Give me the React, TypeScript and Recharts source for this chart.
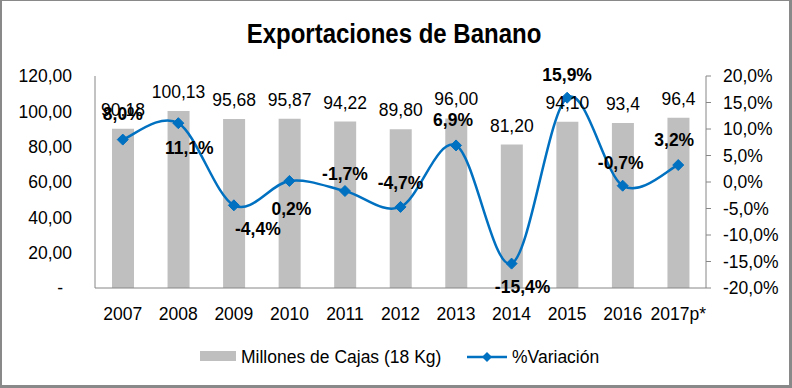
import {
  ComposedChart,
  Bar,
  Line,
  XAxis,
  YAxis,
  LabelList,
} from "recharts";

const years = ["2007", "2008", "2009", "2010", "2011", "2012", "2013", "2014", "2015", "2016", "2017p*"];
const cajas = [90.18, 100.13, 95.68, 95.87, 94.22, 89.8, 96.0, 81.2, 94.1, 93.4, 96.4];
const cajasLabels = ["90,18", "100,13", "95,68", "95,87", "94,22", "89,80", "96,00", "81,20", "94,10", "93,4", "96,4"];
const variacion = [8.0, 11.1, -4.4, 0.2, -1.7, -4.7, 6.9, -15.4, 15.9, -0.7, 3.2];
const leftTicks = [0, 20, 40, 60, 80, 100, 120];
const rightTicks = [-20, -15, -10, -5, 0, 5, 10, 15, 20];

const data = years.map((year, i) => ({
  year,
  cajas: cajas[i],
  variacion: variacion[i],
}));

// where each % label sits relative to its marker (dx, dy of the text centre)
const pctOffsets = [
  [0, -26], [11, 25], [24, 24], [2, 28], [0, -17], [0, -24],
  [-3, -25], [11, 23], [0, -23], [-2, -23], [-4, -25],
];

const FONT = "'Liberation Sans', Arial, sans-serif";
const BLUE = "#0070C0";
const GRAY_BAR = "#BFBFBF";
const AXIS = "#868686";

// Excel-like smoothed line (Catmull-Rom as bezier)
const excelSmooth = (context: any) => {
  let pts: number[][] = [];
  return {
    areaStart() {},
    areaEnd() {},
    lineStart() {
      pts = [];
    },
    point(x: number, y: number) {
      pts.push([+x, +y]);
    },
    lineEnd() {
      const n = pts.length;
      if (!n) return;
      context.moveTo(pts[0][0], pts[0][1]);
      for (let i = 0; i < n - 1; i++) {
        const p0 = pts[Math.max(i - 1, 0)];
        const p1 = pts[i];
        const p2 = pts[i + 1];
        const p3 = pts[Math.min(i + 2, n - 1)];
        context.bezierCurveTo(
          p1[0] + (p2[0] - p0[0]) / 6,
          p1[1] + (p2[1] - p0[1]) / 6,
          p2[0] - (p3[0] - p1[0]) / 6,
          p2[1] - (p3[1] - p1[1]) / 6,
          p2[0],
          p2[1]
        );
      }
    },
  };
};

const fmtLeft = (v: number) => v.toFixed(2).replace(".", ",");
const fmtPct = (v: number) => v.toFixed(1).replace(".", ",") + "%";

const LeftTick = (props: any) => {
  const { x, y, payload } = props;
  const isZero = payload.value === 0;
  return (
    <text
      x={isZero ? x - 9 : x}
      y={y}
      dy="0.355em"
      textAnchor="end"
      fontFamily={FONT}
      fontSize={17.5}
      fill="#000"
    >
      {isZero ? "-" : fmtLeft(payload.value)}
    </text>
  );
};

const Diamond = (props: any) => {
  const { cx, cy } = props;
  if (cx == null || cy == null) return null;
  const r = 5.5;
  return (
    <path
      d={`M${cx},${cy - r}L${cx + r},${cy}L${cx},${cy + r}L${cx - r},${cy}Z`}
      fill={BLUE}
      stroke={BLUE}
    />
  );
};

const BarValueLabel = (props: any) => {
  const { x, y, width, index } = props;
  return (
    <text
      x={x + width / 2}
      y={y - 13}
      textAnchor="middle"
      fontFamily={FONT}
      fontSize={17.5}
      fill="#000"
    >
      {cajasLabels[index]}
    </text>
  );
};

const PctLabel = (props: any) => {
  const { x, y, index } = props;
  const [dx, dy] = pctOffsets[index] || [0, -24];
  return (
    <text
      x={x + dx}
      y={y + dy + 6}
      textAnchor="middle"
      fontFamily={FONT}
      fontSize={17.5}
      fontWeight="bold"
      fill="#000"
    >
      {fmtPct(variacion[index])}
    </text>
  );
};

const LegendBox = () => (
  <div style={{ position: "absolute", left: 0, top: 340, width: 792, height: 34, fontFamily: FONT, fontSize: 17.5 }}>
    <div style={{ position: "absolute", left: 200, top: 11, width: 36, height: 10, background: GRAY_BAR }} />
    <div style={{ position: "absolute", left: 241, top: 7, lineHeight: "20px", whiteSpace: "nowrap", color: "#000" }}>
      Millones de Cajas (18 Kg)
    </div>
    <svg style={{ position: "absolute", left: 466, top: 10 }} width={42} height={14}>
      <line x1={1} y1={7} x2={41} y2={7} stroke={BLUE} strokeWidth={2.5} />
      <path d="M21,2L26,7L21,12L16,7Z" fill={BLUE} />
    </svg>
    <div style={{ position: "absolute", left: 512, top: 7, lineHeight: "20px", whiteSpace: "nowrap", color: "#000" }}>
      %Variación
    </div>
  </div>
);

export default function App() {
  return (
    <div style={{ position: "absolute", left: 0, top: 0, width: 792, height: 388, background: "#fff" }}>
      <ComposedChart
        width={792}
        height={388}
        data={data}
        margin={{ top: 76, right: 0, bottom: 70, left: 0 }}
        barSize={22}
      >
        <XAxis
          dataKey="year"
          height={30}
          axisLine={{ stroke: AXIS }}
          tickLine={false}
          tickSize={0}
          tickMargin={20}
          tick={{ fontFamily: FONT, fontSize: 17.5, fill: "#000" }}
          interval={0}
        />
        <YAxis
          yAxisId="left"
          domain={[0, 120]}
          ticks={leftTicks}
          width={95}
          axisLine={{ stroke: AXIS }}
          tickLine={false}
          tickSize={0}
          tickMargin={23}
          tick={<LeftTick />}
          interval={0}
        />
        <YAxis
          yAxisId="right"
          orientation="right"
          domain={[-20, 20]}
          ticks={rightTicks}
          width={86}
          axisLine={{ stroke: AXIS }}
          tickLine={{ stroke: AXIS }}
          tickSize={5}
          tickMargin={12}
          tickFormatter={fmtPct}
          tick={{ fontFamily: FONT, fontSize: 17.5, fill: "#000", textAnchor: "start" }}
          interval={0}
        />
        <Bar
          yAxisId="left"
          dataKey="cajas"
          name="Millones de Cajas (18 Kg)"
          fill={GRAY_BAR}
          isAnimationActive={false}
        >
          <LabelList dataKey="cajas" content={<BarValueLabel />} />
        </Bar>
        <Line
          yAxisId="right"
          dataKey="variacion"
          name="%Variación"
          type={excelSmooth as any}
          stroke={BLUE}
          strokeWidth={2.5}
          dot={<Diamond />}
          activeDot={false}
          isAnimationActive={false}
        >
          <LabelList dataKey="variacion" content={<PctLabel />} />
        </Line>
      </ComposedChart>
      <LegendBox />
      <svg
        width={792}
        height={388}
        style={{ position: "absolute", left: 0, top: 0, pointerEvents: "none" }}
      >
        <text
          transform="translate(394,43) scale(1,1.15)"
          textAnchor="middle"
          fontFamily={FONT}
          fontWeight="bold"
          fontSize={24}
          fill="#000"
        >
          Exportaciones de Banano
        </text>
        <rect x={789} y={0} width={3} height={388} fill="#898989" />
        <rect x={0} y={385} width={792} height={3} fill="#898989" />
        <rect x={0} y={0} width={2} height={388} fill="#898989" />
        <rect x={0} y={0} width={792} height={1} fill="#898989" />
      </svg>
    </div>
  );
}
